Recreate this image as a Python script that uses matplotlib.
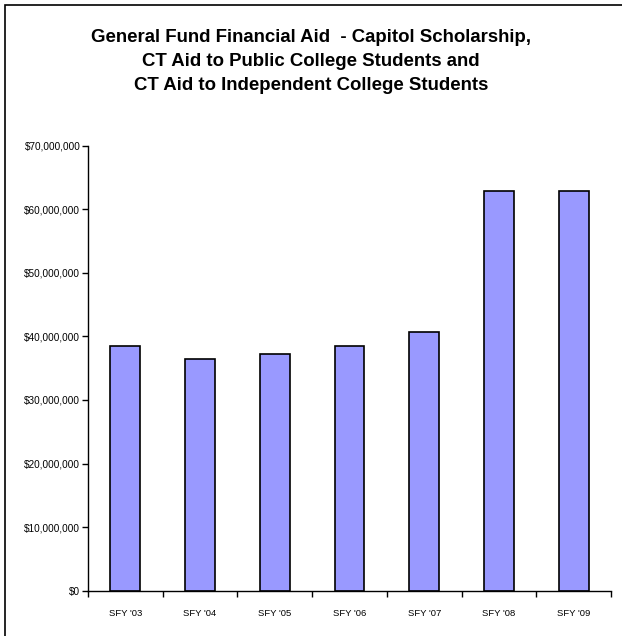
import matplotlib
matplotlib.use("Agg")
import matplotlib.pyplot as plt
from matplotlib.ticker import FuncFormatter, FixedLocator
from matplotlib.patches import Rectangle

plt.rcParams['font.family'] = ['Liberation Sans', 'DejaVu Sans']

years = ["SFY '03", "SFY '04", "SFY '05", "SFY '06", "SFY '07", "SFY '08", "SFY '09"]
aid = [38550000, 36400000, 37200000, 38550000, 40700000, 62900000, 62900000]

title = ("General Fund Financial Aid  - Capitol Scholarship,\n"
         "CT Aid to Public College Students and\n"
         "CT Aid to Independent College Students")


def money(v, pos):
    return "${:,.0f}".format(v)


fig = plt.figure(figsize=(6.22, 6.36), dpi=100)
ax = fig.add_axes([0.1415, 0.0712, 0.8408, 0.6997])

x = range(len(years))
ax.bar(x, aid, width=0.4, color="#9999FF", edgecolor="black", linewidth=1.2)

ax.set_xlim(-0.5, len(years) - 0.5)
ax.set_ylim(0, 70000000)
ax.set_yticks(range(0, 70000001, 10000000))
ax.yaxis.set_major_formatter(FuncFormatter(money))
ax.set_xticks(list(x))
ax.set_xticklabels(years)
ax.xaxis.set_minor_locator(FixedLocator([i - 0.5 for i in range(len(years) + 1)]))

ax.tick_params(axis="y", direction="out", length=4, width=1, labelsize=7.2, pad=1.5)
ax.tick_params(axis="x", which="major", length=0, labelsize=6.8, pad=13)
ax.tick_params(axis="x", which="minor", direction="out", length=4, width=1)

for side in ["top", "right"]:
    ax.spines[side].set_visible(False)
for side in ["left", "bottom"]:
    ax.spines[side].set_linewidth(1)

fig.text(0.5, 0.955, title, ha="center", va="top", fontsize=13.4,
         fontweight="bold", linespacing=1.55)

# frame around the chart area
fig.patches.append(Rectangle((5 / 622, -0.1), 1.2, 1.1 - 5 / 636,
                             transform=fig.transFigure, fill=False,
                             edgecolor="black", linewidth=1.2))

fig.savefig("out.png", dpi=100)
